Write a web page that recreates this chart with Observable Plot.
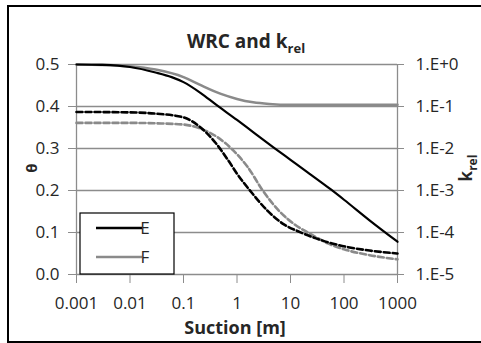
<!DOCTYPE html>
<html><head><meta charset="utf-8">
<script src="https://cdn.jsdelivr.net/npm/d3@7"></script>
<script src="https://cdn.jsdelivr.net/npm/@observablehq/plot@0.6"></script>
<style>
body{margin:0;background:#fff;}
#wrap{position:relative;width:481px;height:343px;overflow:hidden;}
#border{position:absolute;left:7px;top:5px;width:490px;height:338px;box-sizing:border-box;border:2.5px solid #000;pointer-events:none;}
</style></head>
<body><div id="wrap"><div id="chart"></div><div id="border"></div></div>
<script>
// ---- data ----
const seriesNames = ["E", "F"];
// WRC (θ, solid lines)
const suctionE_wrc = [0.001, 0.003, 0.01, 0.03, 0.06, 0.1, 0.21, 0.4, 1, 2, 5, 10, 20, 56, 100, 300, 1000];
const thetaE_wrc   = [0.5, 0.499, 0.494, 0.481, 0.47, 0.458, 0.432, 0.405, 0.368, 0.339, 0.301, 0.273, 0.245, 0.203, 0.178, 0.129, 0.078];
const suctionF_wrc = [0.001, 0.003, 0.01, 0.03, 0.1, 0.2, 0.5, 1, 2, 4, 10, 100, 1000];
const thetaF_wrc   = [0.5, 0.499, 0.496, 0.488, 0.47, 0.452, 0.43, 0.418, 0.41, 0.406, 0.404, 0.404, 0.404];
// k_rel (dashed lines, drawn against the left-axis positions)
const suctionE_k = [0.001, 0.01, 0.03, 0.1, 0.2, 0.4, 0.7, 1, 1.8, 3.7, 7.4, 15, 30, 60, 120, 300, 1000];
const valueE_k   = [0.387, 0.386, 0.383, 0.374, 0.352, 0.313, 0.27, 0.24, 0.198, 0.152, 0.12, 0.101, 0.086, 0.074, 0.065, 0.057, 0.05];
const suctionF_k = [0.001, 0.01, 0.03, 0.1, 0.2, 0.43, 0.86, 1.6, 3.1, 6.5, 12, 24, 50, 100, 300, 1000];
const valueF_k   = [0.361, 0.361, 0.36, 0.357, 0.348, 0.327, 0.295, 0.255, 0.198, 0.148, 0.119, 0.096, 0.074, 0.06, 0.046, 0.036];
// axes
const xTicks = [0.001, 0.01, 0.1, 1, 10, 100, 1000];
const xTickLabels = ["0.001", "0.01", "0.1", "1", "10", "100", "1000"];
const yTicks = [0, 0.1, 0.2, 0.3, 0.4, 0.5];
const yTickLabels = ["0.0", "0.1", "0.2", "0.3", "0.4", "0.5"];
const kTickLabels = ["1.E-5", "1.E-4", "1.E-3", "1.E-2", "1.E-1", "1.E+0"];

const mk = (xs, ys) => xs.map((s, i) => ({s, v: ys[i]}));
const E_wrc = mk(suctionE_wrc, thetaE_wrc), F_wrc = mk(suctionF_wrc, thetaF_wrc);
const E_k = mk(suctionE_k, valueE_k), F_k = mk(suctionF_k, valueF_k);
const grid = "#8c8c8c", txt = "#262626";
const font = '"Open Sans", sans-serif';

const svg = Plot.plot({
  width: 481, height: 343,
  marginLeft: 76, marginRight: 84, marginTop: 64, marginBottom: 69,
  style: {fontFamily: font, fontSize: "17px", color: txt, background: "transparent", overflow: "visible"},
  x: {type: "log", domain: [0.001, 1000]},
  y: {domain: [0, 0.5]},
  marks: [
    Plot.ruleY(yTicks, {x1: 0.001, x2: 1000, stroke: grid, strokeWidth: 1.3}),
    Plot.ruleX([0.001, 1000], {y1: 0, y2: 0.5, stroke: grid, strokeWidth: 1.3}),
    Plot.axisY({anchor: "left", ticks: yTicks, tickSize: 8, tickPadding: 9, stroke: grid, fill: txt,
      tickFormat: d => yTickLabels[yTicks.indexOf(d)], label: null}),
    Plot.axisY({anchor: "right", ticks: yTicks, tickSize: 6, tickPadding: 12, stroke: grid, fill: txt,
      tickFormat: d => kTickLabels[yTicks.indexOf(d)], label: null}),
    Plot.axisX({anchor: "bottom", ticks: xTicks, tickSize: 9, tickPadding: 13, stroke: grid, fill: txt,
      tickFormat: d => xTickLabels[xTicks.indexOf(d)], label: null}),
    Plot.line(F_k, {x: "s", y: "v", stroke: "#8a8a8a", strokeWidth: 2.6, strokeDasharray: "6,3", curve: "monotone-x"}),
    Plot.line(E_k, {x: "s", y: "v", stroke: "#000", strokeWidth: 2.6, strokeDasharray: "6,3", curve: "monotone-x"}),
    Plot.line(F_wrc, {x: "s", y: "v", stroke: "#8a8a8a", strokeWidth: 2.6, curve: "monotone-x"}),
    Plot.line(E_wrc, {x: "s", y: "v", stroke: "#000", strokeWidth: 2.2, curve: "monotone-x"})
  ]
});
document.getElementById("chart").appendChild(svg);

const s = d3.select(svg);
// title
const t = s.append("text").attr("x", 246).attr("y", 48).attr("text-anchor", "middle")
  .attr("font-family", font).attr("font-weight", "bold").attr("font-size", 19).attr("fill", txt);
t.append("tspan").text("WRC and k");
t.append("tspan").attr("font-size", 13).attr("dy", 5).text("rel");
// x label
s.append("text").attr("x", 235).attr("y", 334).attr("text-anchor", "middle")
  .attr("font-family", font).attr("font-weight", "bold").attr("font-size", 18).attr("fill", txt).text("Suction [m]");
// left y label
s.append("text").attr("transform", "translate(37,168) rotate(-90)").attr("text-anchor", "middle")
  .attr("font-family", font).attr("font-weight", "bold").attr("font-size", 15).attr("fill", txt).text("θ");
// right y label
const k = s.append("text").attr("transform", "translate(472,168) rotate(-90)").attr("text-anchor", "middle")
  .attr("font-family", font).attr("font-weight", "bold").attr("font-size", 17).attr("fill", txt);
k.append("tspan").text("k");
k.append("tspan").attr("font-size", 12).attr("dy", 5).text("rel");
// legend
const lg = s.append("g");
lg.append("rect").attr("x", 80).attr("y", 213).attr("width", 94).attr("height", 61)
  .attr("fill", "#fff").attr("stroke", "#000").attr("stroke-width", 1.2);
const legendColors = ["#000", "#8a8a8a"];
seriesNames.forEach((n, i) => {
  const y = 228 + i * 29;
  lg.append("line").attr("x1", 96).attr("x2", 142).attr("y1", y).attr("y2", y)
    .attr("stroke", legendColors[i]).attr("stroke-width", 2.4);
  lg.append("text").attr("x", 145).attr("y", y + 6).attr("font-family", font).attr("font-size", 17)
    .attr("fill", txt).text(n);
});
</script>
</body></html>
